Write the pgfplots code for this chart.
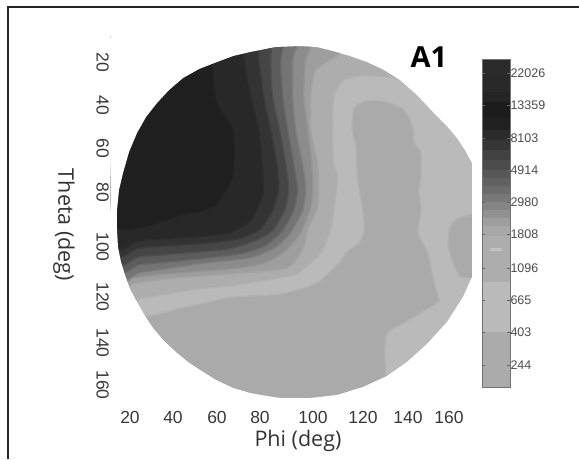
\documentclass[border=0pt]{standalone}
\usepackage{fontspec}
\setmainfont{Liberation Sans}
\newfontfamily\labelfont{Open Sans}
\usepackage{pgfplots}
\pgfplotsset{compat=1.18}
\definecolor{g0}{gray}{0.73}
\definecolor{g1}{gray}{0.665}
\definecolor{g2}{gray}{0.68}
\definecolor{g3}{gray}{0.62}
\definecolor{g4}{gray}{0.55}
\definecolor{g5}{gray}{0.455}
\definecolor{g6}{gray}{0.36}
\definecolor{g7}{gray}{0.27}
\definecolor{g8}{gray}{0.20}
\definecolor{g9}{gray}{0.155}
\definecolor{g10}{gray}{0.12}
\definecolor{txt}{gray}{0.22}
\pgfplotsset{
  band/.style={fill=#1,draw=none,forget plot},
  soft/.style={fill=#1,draw=#1,draw opacity=0.5,line width=3pt,smooth,tension=0.4,forget plot},
}
\newcommand{\cbar}[3]{\addplot[band={black!#3}] coordinates {(0,#1)(1,#1)(1,#2)(0,#2)} -- cycle;}
\begin{document}
\begin{tikzpicture}[x=1pt,y=1pt]
\useasboundingbox (0,0) rectangle (579,459);
\draw[line width=1.6pt,black!85] (8,0) -- (8,452) -- (579,452);
\begin{axis}[
  at={(110pt,49pt)},anchor=south west,scale only axis,
  width=372pt,height=378pt,
  xmin=110,xmax=482,ymin=32,ymax=410,y dir=reverse,
  axis line style={draw=none},major tick length=0pt,
  xtick={130,173,217,260,313,363,408,449},
  xticklabels={20,40,60,80,100,120,140,160},
  ytick={62,105,148,192,247,297,343,385},
  yticklabels={20,40,60,80,100,120,140,160},
  tick label style={font=\fontsize{17.5}{19}\selectfont,text=txt},
  xticklabel style={yshift=2.5pt},
  yticklabel style={rotate=-90,anchor=north,yshift=2.5pt},
  every axis x label/.style={at={(axis cs:298,441)},anchor=center},
  every axis y label/.style={at={(axis cs:64,225)},anchor=center,rotate=-90},
  xlabel={\labelfont\fontsize{21.5}{24}\selectfont Phi (deg)},
  ylabel={\labelfont\fontsize{21.5}{24}\selectfont Theta (deg)},
  label style={text=black!80},
]
% L0 whole disc
\addplot[band=g0] coordinates {(115,37)(478,37)(478,404)(115,404)} -- cycle;
% L1 lower region with tongue
\addplot[soft=g1] coordinates {(115,320)(150,317)(177,310)(200,305)(233,298)(280,295)(307,288)(320,282)(340,263)(347,253)(360,243)(365,230)(363,207)(358,177)(357,147)(353,130)(355,108)(367,102)(383,102)(403,110)(412,127)(413,143)(420,153)(420,177)(418,190)(420,210)(417,233)(427,253)(432,277)(437,297)(437,302)(407,320)(387,332)(384,350)(385,375)(387,404)(115,404)} -- cycle;
% right patch
\addplot[soft=g1] coordinates {(478,213)(472,215)(457,220)(450,230)(449,245)(453,260)(460,275)(470,277)(478,278)} -- cycle;
% L2
\addplot[soft=g2] coordinates {(425,90)(407,82)(393,77)(363,75)(343,80)(333,97)(332,130)(333,163)(337,177)(333,210)(330,230)(320,253)(297,273)(280,277)(233,285)(200,288)(175,292)(140,298)(115,303)(115,100)(115,45)(118,38)(135,37)(425,37)} -- cycle;
% L3
\addplot[soft=g3] coordinates {(360,37)(337,55)(315,70)(310,97)(310,130)(317,163)(318,187)(317,207)(307,230)(303,247)(287,267)(233,273)(167,278)(133,283)(115,286)(115,100)(115,45)(118,38)(135,37)} -- cycle;
% L4
\addplot[soft=g4] coordinates {(315,37)(305,60)(303,97)(307,130)(311,165)(312,187)(310,207)(300,232)(285,250)(265,262)(233,268)(167,273)(133,277)(115,279)(115,100)(115,45)(118,38)(135,37)} -- cycle;
% L5
\addplot[soft=g5] coordinates {(300,37)(292,60)(292,97)(295,130)(303,170)(305,190)(302,210)(290,232)(275,247)(250,257)(200,263)(140,272)(115,275)(115,100)(115,45)(118,38)(135,37)} -- cycle;
% L6
\addplot[soft=g6] coordinates {(285,37)(280,60)(282,97)(287,130)(294,170)(297,190)(293,210)(282,230)(265,245)(240,253)(200,258)(140,264)(115,266)(115,100)(115,45)(118,38)(135,37)} -- cycle;
% L7
\addplot[soft=g7] coordinates {(272,37)(270,60)(272,97)(279,130)(286,170)(288,190)(284,210)(272,230)(255,240)(230,248)(200,251)(140,256)(115,258)(115,100)(115,45)(118,38)(135,37)} -- cycle;
% L8
\addplot[soft=g8] coordinates {(258,37)(258,60)(263,97)(270,130)(277,170)(278,190)(272,210)(260,228)(240,238)(200,243)(140,247)(115,250)(115,100)(115,45)(118,38)(135,37)} -- cycle;
% L9
\addplot[soft=g9] coordinates {(240,37)(245,70)(250,97)(258,130)(262,170)(262,195)(250,220)(230,232)(200,236)(140,240)(115,243)(115,100)(115,45)(118,38)(135,37)} -- cycle;
% L10
\addplot[soft=g10] coordinates {(210,37)(215,100)(232,130)(232,175)(215,205)(180,215)(115,225)(115,100)(115,45)(118,38)(135,37)} -- cycle;
% white surround of the disc
\addplot[fill=white,draw=none,forget plot] coordinates {(300,32)(111,32)(111,410)(482,410)(482,32)(300,32)
 (300,46)(317,47)(333,51)(350,56)(367,62)(384,70)(400,80)(417,95)(433,112)(446,125)(457,138)(465,150)(472,163)(472,277)(463,297)(447,322)(427,344)(407,362)(387,376)(363,387)(337,395)(310,398)(300,398)(280,398)(267,396)(250,393)(233,388)(216,380)(200,370)(188,362)(177,353)(164,341)(153,328)(145,316)(137,302)(130,289)(125,275)(121,262)(118,247)(117,230)(117,210)(119,190)(123,173)(129,152)(137,133)(146,117)(157,103)(169,90)(183,78)(199,69)(217,62)(233,56)(250,52)(275,47)(300,46)(300,32)} -- cycle;
\node[anchor=center,font=\labelfont\bfseries\fontsize{29}{30}\selectfont] at (axis cs:429,57) {A1};
\end{axis}
\begin{axis}[
  at={(482pt,72pt)},anchor=south west,scale only axis,
  width=28pt,height=328pt,
  xmin=0,xmax=1,ymin=59,ymax=387,y dir=reverse,
  xtick=\empty,
  ytick={73,105,138,170,202,234,268,300,332,365},
  yticklabels={22026,13359,8103,4914,2980,1808,1096,665,403,244},
  yticklabel pos=right,
  ytick pos=both,
  tick align=inside,major tick length=3pt,
  axis line style={draw=black!55,line width=1pt},
  tick style={draw=black!60,line width=0.7pt},
  yticklabel style={font=\fontsize{12.5}{14}\selectfont,text=black!70,xshift=-3pt},
  axis on top,
]
\cbar{59}{75}{83}
\cbar{75}{92}{84}
\cbar{92}{102}{86}
\cbar{102}{118}{89}
\cbar{118}{130}{87}
\cbar{130}{140}{83}
\cbar{140}{150}{79}
\cbar{150}{160}{74}
\cbar{160}{170}{70}
\cbar{170}{178}{66}
\cbar{178}{186}{62}
\cbar{186}{194}{58}
\cbar{194}{202}{53}
\cbar{202}{210}{48}
\cbar{210}{218}{43}
\cbar{218}{226}{38}
\cbar{226}{236}{34}
\cbar{236}{282}{32}
\cbar{282}{332}{27}
\cbar{332}{387}{33}
\addplot[band={black!24}] coordinates {(0.3,248)(0.7,248)(0.7,251)(0.3,251)} -- cycle;
\end{axis}
\end{tikzpicture}
\end{document}
